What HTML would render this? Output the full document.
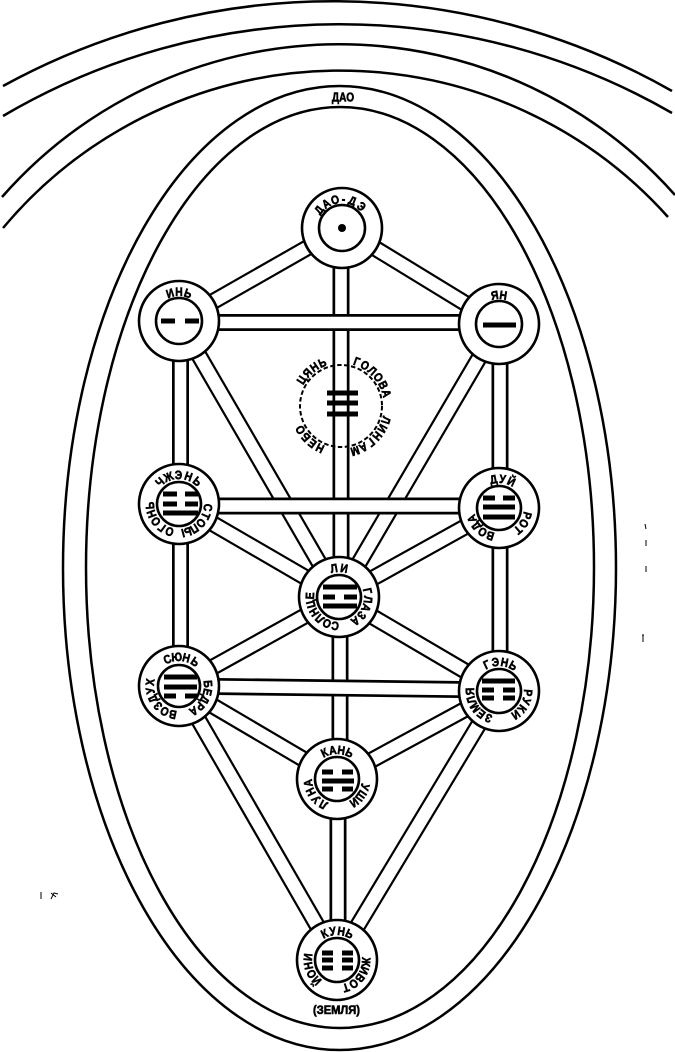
<!DOCTYPE html>
<html lang="ru">
<head>
<meta charset="utf-8">
<title>Древо</title>
<style>
html,body{margin:0;padding:0;background:#fff;}
svg{display:block;}
text{font-family:"Liberation Sans","DejaVu Sans",sans-serif;font-weight:bold;fill:#000;font-size:12px;text-anchor:middle;stroke:#000;stroke-width:.6px;}
.n{fill:#fff;stroke:#000;stroke-width:2.6;}
.b{stroke:#000;stroke-width:5;fill:none;}
.a{fill:none;stroke:#000;stroke-width:2.5;}
.k{stroke:#000;stroke-width:17;fill:none;}
.w{stroke:#fff;stroke-width:12.6;fill:none;}
.kh{stroke:#000;stroke-width:17;fill:none;}
.wh{stroke:#fff;stroke-width:11.6;fill:none;}
</style>
</head>
<body>
<svg width="675" height="1052" viewBox="0 0 675 1052" xmlns="http://www.w3.org/2000/svg">
<rect width="675" height="1052" fill="#fff"/>

<!-- outer arcs -->
<path class="a" d="M3,86 A685,685 0 0 1 672,91"/>
<path class="a" d="M3,116 A665,665 0 0 1 672,113"/>
<path class="a" d="M2,197 A449,449 0 0 1 675,195"/>
<path class="a" d="M3,228 A440,440 0 0 1 668,217"/>

<!-- ellipses -->
<ellipse class="a" cx="339.5" cy="568" rx="276.5" ry="482"/>
<ellipse class="a" cx="340" cy="567.5" rx="254" ry="460.5"/>
<text transform="translate(343,101.500) scale(.78,1)" style="font-size:13px">ДАО</text>

<!-- diagonal connectors -->
<g>
<path class="k" d="M179,321L339,597"/><path class="w" d="M179,321L339,597"/>
<path class="k" d="M499,324L339,597"/><path class="w" d="M499,324L339,597"/>
<path class="k" d="M179,504L339,597"/><path class="w" d="M179,504L339,597"/>
<path class="k" d="M499,508L339,597"/><path class="w" d="M499,508L339,597"/>
<path class="k" d="M179,686L339,597"/><path class="w" d="M179,686L339,597"/>
<path class="k" d="M499,691L339,597"/><path class="w" d="M499,691L339,597"/>
<path class="k" d="M179,686L337,779"/><path class="w" d="M179,686L337,779"/>
<path class="k" d="M499,691L337,779"/><path class="w" d="M499,691L337,779"/>
<path class="k" d="M179,686L337,960"/><path class="w" d="M179,686L337,960"/>
<path class="k" d="M499,691L337,960"/><path class="w" d="M499,691L337,960"/>
<path class="k" d="M342,228L179,321"/><path class="w" d="M342,228L179,321"/>
<path class="k" d="M342,228L499,324"/><path class="w" d="M342,228L499,324"/>
</g>
<!-- vertical connectors -->
<g>
<path class="kh" d="M341,228V597"/><path class="wh" d="M341,228V597"/>
<path class="kh" d="M340,597V779"/><path class="wh" d="M340,597V779"/>
<path class="kh" d="M338,779V960"/><path class="wh" d="M338,779V960"/>
<path class="kh" d="M180.500,321V686"/><path class="wh" d="M180.500,321V686"/>
<path class="kh" d="M500,324V691"/><path class="wh" d="M500,324V691"/>
</g>
<!-- horizontal connectors -->
<g>
<path class="kh" d="M179,322.500H499"/><path class="wh" d="M179,322.500H499"/>
<path class="kh" d="M179,506H499"/><path class="wh" d="M179,506H499"/>
<path class="kh" d="M179,686L499,690"/><path class="wh" d="M179,686L499,690"/>
</g>

<!-- central figure -->
<circle cx="341" cy="406" r="41" fill="none" stroke="#000" stroke-width="2" stroke-dasharray="4.500 2.500"/>
<path class="b" d="M327,393H358M327,403H358M327,414H358"/>
<g transform="translate(341,406)">
<text transform="rotate(-56.5) translate(0,-43) scale(.86,1)">Ц</text><text transform="rotate(-45.5) translate(0,-43) scale(.86,1)">Я</text><text transform="rotate(-34.5) translate(0,-43) scale(.86,1)">Н</text><text transform="rotate(-23.5) translate(0,-43) scale(.86,1)">Ь</text>
<text transform="rotate(19.5) translate(0,-43) scale(.86,1)">Г</text><text transform="rotate(30.5) translate(0,-43) scale(.86,1)">О</text><text transform="rotate(41.5) translate(0,-43) scale(.86,1)">Л</text><text transform="rotate(52.5) translate(0,-43) scale(.86,1)">О</text><text transform="rotate(63.5) translate(0,-43) scale(.86,1)">В</text><text transform="rotate(74.5) translate(0,-43) scale(.86,1)">А</text>
<text transform="rotate(107.5) translate(0,-43) scale(.86,1)">Л</text><text transform="rotate(118.5) translate(0,-43) scale(.86,1)">И</text><text transform="rotate(129.5) translate(0,-43) scale(.86,1)">Н</text><text transform="rotate(140.5) translate(0,-43) scale(.86,1)">Г</text><text transform="rotate(151.5) translate(0,-43) scale(.86,1)">А</text><text transform="rotate(162.5) translate(0,-43) scale(.86,1)">М</text>
<text transform="rotate(206.5) translate(0,-43) scale(.86,1)">Н</text><text transform="rotate(217.5) translate(0,-43) scale(.86,1)">Е</text><text transform="rotate(228.5) translate(0,-43) scale(.86,1)">Б</text><text transform="rotate(239.5) translate(0,-43) scale(.86,1)">О</text>
</g>

<!-- ДАО-ДЭ -->
<circle class="n" cx="342" cy="228" r="40"/><circle class="n" cx="342" cy="228" r="23"/>
<circle cx="342" cy="228" r="4"/>
<g transform="translate(342,228)">
<text transform="rotate(-52) translate(0,-25) scale(.86,1)">Д</text><text transform="rotate(-33) translate(0,-25) scale(.86,1)">А</text><text transform="rotate(-14) translate(0,-25) scale(.86,1)">О</text><text transform="rotate(3) translate(0,-25) scale(.86,1)">-</text><text transform="rotate(21) translate(0,-25) scale(.86,1)">Д</text><text transform="rotate(42) translate(0,-25) scale(.86,1)">Э</text>
</g>

<!-- ИНЬ -->
<circle class="n" cx="179" cy="321" r="40"/><circle class="n" cx="179" cy="321" r="23"/>
<path class="b" d="M161,321H175M185,321H199"/>
<g transform="translate(179,321)">
<text transform="rotate(-18) translate(0,-25) scale(.86,1)">И</text><text transform="rotate(0) translate(0,-25) scale(.86,1)">Н</text><text transform="rotate(18) translate(0,-25) scale(.86,1)">Ь</text>
</g>

<!-- ЯН -->
<circle class="n" cx="499" cy="324" r="40"/><circle class="n" cx="499" cy="324" r="23"/>
<path class="b" d="M483,325H516"/>
<g transform="translate(499,324)">
<text transform="rotate(-8.5) translate(0,-25) scale(.86,1)">Я</text><text transform="rotate(8.5) translate(0,-25) scale(.86,1)">Н</text>
</g>

<!-- ЧЖЭНЬ -->
<circle class="n" cx="179" cy="504" r="40"/><circle class="n" cx="179" cy="504" r="22"/>
<path class="b" d="M163,494H177M185,494H198M163,504H177M185,504H198M163,513H198"/>
<g transform="translate(179,504)">
<text transform="rotate(-41) translate(0,-25) scale(.86,1)">Ч</text><text transform="rotate(-21) translate(0,-25) scale(.86,1)">Ж</text><text transform="rotate(-1) translate(0,-25) scale(.86,1)">Э</text><text transform="rotate(19) translate(0,-25) scale(.86,1)">Н</text><text transform="rotate(39) translate(0,-25) scale(.86,1)">Ь</text>
<text transform="rotate(97) translate(0,-25) scale(.86,1)">С</text><text transform="rotate(114) translate(0,-25) scale(.86,1)">Т</text><text transform="rotate(131) translate(0,-25) scale(.86,1)">О</text><text transform="rotate(148) translate(0,-25) scale(.86,1)">П</text><text transform="rotate(165) translate(0,-25) scale(.86,1)">Ы</text>
<text transform="rotate(199) translate(0,-25) scale(.86,1)">О</text><text transform="rotate(216) translate(0,-25) scale(.86,1)">Г</text><text transform="rotate(233) translate(0,-25) scale(.86,1)">О</text><text transform="rotate(250) translate(0,-25) scale(.86,1)">Н</text><text transform="rotate(267) translate(0,-25) scale(.86,1)">Ь</text>
</g>

<!-- ДУЙ -->
<circle class="n" cx="499" cy="508" r="40"/><circle class="n" cx="499" cy="508" r="22"/>
<path class="b" d="M483,498H495M503,498H515M483,507H515M483,517H515"/>
<g transform="translate(499,508)">
<text transform="rotate(-11) translate(0,-25) scale(.86,1)">Д</text><text transform="rotate(7) translate(0,-25) scale(.86,1)">У</text><text transform="rotate(25) translate(0,-25) scale(.86,1)">Й</text>
<text transform="rotate(105) translate(0,-25) scale(.86,1)">Р</text><text transform="rotate(122) translate(0,-25) scale(.86,1)">О</text><text transform="rotate(139) translate(0,-25) scale(.86,1)">Т</text>
<text transform="rotate(197.5) translate(0,-25) scale(.86,1)">В</text><text transform="rotate(214.5) translate(0,-25) scale(.86,1)">О</text><text transform="rotate(231.5) translate(0,-25) scale(.86,1)">Д</text><text transform="rotate(248.5) translate(0,-25) scale(.86,1)">А</text>
</g>

<!-- ЛИ -->
<circle class="n" cx="339" cy="597" r="40"/><circle class="n" cx="339" cy="597" r="22"/>
<path class="b" d="M323,587H357M323,597H335M344,597H357M323,606H357"/>
<g transform="translate(339,597)">
<text transform="rotate(-10) translate(0,-25) scale(.86,1)">Л</text><text transform="rotate(10) translate(0,-25) scale(.86,1)">И</text>
<text transform="rotate(78) translate(0,-25) scale(.86,1)">Г</text><text transform="rotate(95) translate(0,-25) scale(.86,1)">Л</text><text transform="rotate(112) translate(0,-25) scale(.86,1)">А</text><text transform="rotate(129) translate(0,-25) scale(.86,1)">З</text><text transform="rotate(146) translate(0,-25) scale(.86,1)">А</text>
<text transform="rotate(187.5) translate(0,-25) scale(.86,1)">С</text><text transform="rotate(204.5) translate(0,-25) scale(.86,1)">О</text><text transform="rotate(221.5) translate(0,-25) scale(.86,1)">Л</text><text transform="rotate(238.5) translate(0,-25) scale(.86,1)">Н</text><text transform="rotate(255.5) translate(0,-25) scale(.86,1)">Ц</text><text transform="rotate(272.5) translate(0,-25) scale(.86,1)">Е</text>
</g>

<!-- СЮНЬ -->
<circle class="n" cx="179" cy="686" r="40"/><circle class="n" cx="179" cy="686" r="21"/>
<path class="b" d="M164,677H197M164,687H197M164,696H176M185,696H197"/>
<g transform="translate(179,686)">
<text transform="rotate(-23.5) translate(0,-25) scale(.86,1)">С</text><text transform="rotate(-4.5) translate(0,-25) scale(.86,1)">Ю</text><text transform="rotate(14.5) translate(0,-25) scale(.86,1)">Н</text><text transform="rotate(33.5) translate(0,-25) scale(.86,1)">Ь</text>
<text transform="rotate(86) translate(0,-25) scale(.86,1)">Б</text><text transform="rotate(102) translate(0,-25) scale(.86,1)">Е</text><text transform="rotate(118) translate(0,-25) scale(.86,1)">Д</text><text transform="rotate(134) translate(0,-25) scale(.86,1)">Р</text><text transform="rotate(150) translate(0,-25) scale(.86,1)">А</text>
<text transform="rotate(192.5) translate(0,-25) scale(.86,1)">В</text><text transform="rotate(209.5) translate(0,-25) scale(.86,1)">О</text><text transform="rotate(226.5) translate(0,-25) scale(.86,1)">З</text><text transform="rotate(243.5) translate(0,-25) scale(.86,1)">Д</text><text transform="rotate(260.5) translate(0,-25) scale(.86,1)">У</text><text transform="rotate(277.5) translate(0,-25) scale(.86,1)">Х</text>
</g>

<!-- ГЭНЬ -->
<circle class="n" cx="499" cy="691" r="40"/><circle class="n" cx="499" cy="691" r="22"/>
<path class="b" d="M482,681H515M482,690H494M503,690H515M482,698H494M503,698H515"/>
<g transform="translate(499,691)">
<text transform="rotate(-25) translate(0,-25) scale(.86,1)">Г</text><text transform="rotate(-7) translate(0,-25) scale(.86,1)">Э</text><text transform="rotate(11) translate(0,-25) scale(.86,1)">Н</text><text transform="rotate(29) translate(0,-25) scale(.86,1)">Ь</text>
<text transform="rotate(93.5) translate(0,-25) scale(.86,1)">Р</text><text transform="rotate(110.5) translate(0,-25) scale(.86,1)">У</text><text transform="rotate(127.5) translate(0,-25) scale(.86,1)">К</text><text transform="rotate(144.5) translate(0,-25) scale(.86,1)">И</text>
<text transform="rotate(201) translate(0,-25) scale(.86,1)">З</text><text transform="rotate(218) translate(0,-25) scale(.86,1)">Е</text><text transform="rotate(235) translate(0,-25) scale(.86,1)">М</text><text transform="rotate(252) translate(0,-25) scale(.86,1)">Л</text><text transform="rotate(269) translate(0,-25) scale(.86,1)">Я</text>
</g>

<!-- КАНЬ -->
<circle class="n" cx="337" cy="779" r="40"/><circle class="n" cx="337" cy="779" r="22"/>
<path class="b" d="M322,772H333M342,772H353M322,781H354M322,789H333M342,789H353"/>
<g transform="translate(337,779)">
<text transform="rotate(-25.5) translate(0,-25) scale(.86,1)">К</text><text transform="rotate(-8.5) translate(0,-25) scale(.86,1)">А</text><text transform="rotate(8.5) translate(0,-25) scale(.86,1)">Н</text><text transform="rotate(25.5) translate(0,-25) scale(.86,1)">Ь</text>
<text transform="rotate(106) translate(0,-25) scale(.86,1)">У</text><text transform="rotate(125) translate(0,-25) scale(.86,1)">Ш</text><text transform="rotate(144) translate(0,-25) scale(.86,1)">И</text>
<text transform="rotate(208) translate(0,-25) scale(.86,1)">Л</text><text transform="rotate(226) translate(0,-25) scale(.86,1)">У</text><text transform="rotate(244) translate(0,-25) scale(.86,1)">Н</text><text transform="rotate(262) translate(0,-25) scale(.86,1)">А</text>
</g>

<!-- КУНЬ -->
<circle class="n" cx="337" cy="960" r="40"/><circle class="n" cx="337" cy="960" r="22"/>
<path class="b" d="M322,953H333M342,953H353M322,960H333M342,960H353M322,968H333M342,968H353"/>
<g transform="translate(337,960)">
<text transform="rotate(-25.5) translate(0,-25) scale(.86,1)">К</text><text transform="rotate(-8.5) translate(0,-25) scale(.86,1)">У</text><text transform="rotate(8.5) translate(0,-25) scale(.86,1)">Н</text><text transform="rotate(25.5) translate(0,-25) scale(.86,1)">Ь</text>
<text transform="rotate(94) translate(0,-25) scale(.86,1)">Ж</text><text transform="rotate(111) translate(0,-25) scale(.86,1)">И</text><text transform="rotate(128) translate(0,-25) scale(.86,1)">В</text><text transform="rotate(145) translate(0,-25) scale(.86,1)">О</text><text transform="rotate(162) translate(0,-25) scale(.86,1)">Т</text>
<text transform="rotate(224.5) translate(0,-25) scale(.86,1)">Й</text><text transform="rotate(241.5) translate(0,-25) scale(.86,1)">О</text><text transform="rotate(258.5) translate(0,-25) scale(.86,1)">Н</text><text transform="rotate(275.5) translate(0,-25) scale(.86,1)">И</text>
</g>
<text transform="translate(336.500,1014) scale(.93,1)">(ЗЕМЛЯ)</text>

<!-- specks -->
<path d="M41,892V899M51,899L54,893L58,894M51,893L56,897" stroke="#000" stroke-width="1" fill="none"/>
<path d="M645,524L646,529M646,540V546M646,566V572M642,635H644M643,635V642" stroke="#000" stroke-width="1" fill="none"/>
</svg>
</body>
</html>
